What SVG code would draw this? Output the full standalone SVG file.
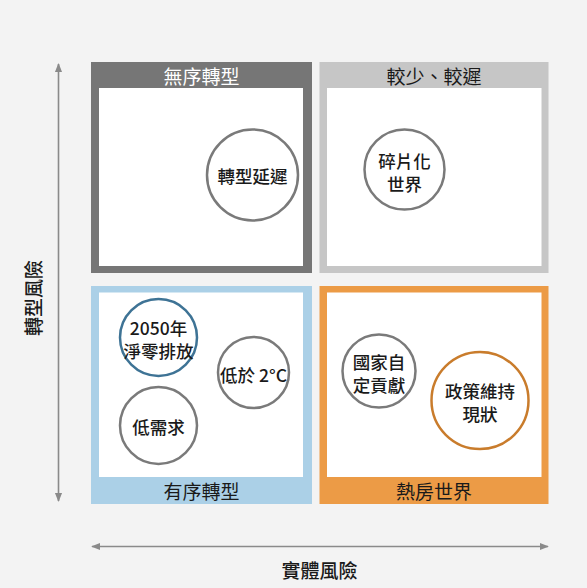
<svg xmlns="http://www.w3.org/2000/svg" width="587" height="588" viewBox="0 0 587 588">
<defs>
<style>
text{font-family:"Noto Sans CJK TC","Noto Sans CJK SC",sans-serif;text-anchor:middle;dominant-baseline:central}
.hd{font-size:19px}
.lb{font-size:17.5px;font-weight:500;fill:#1a1a1a}
.ax{font-size:19px;font-weight:500;fill:#1a1a1a}
.inner{fill:#fff}
.c{fill:#fff;stroke-width:2.5}
</style>
<marker id="ah" viewBox="0 0 10 10" refX="9" refY="5" markerWidth="9" markerHeight="9" markerUnits="userSpaceOnUse" orient="auto-start-reverse">
<path d="M0,1 L10,5 L0,9 Z" fill="#8a8a8a"/>
</marker>
</defs>
<rect x="0" y="0" width="587" height="588" fill="#f3f3f3"/>
<g id="connectors">
<line x1="58.5" y1="64" x2="58.5" y2="501" stroke="#8a8a8a" stroke-width="1.6" marker-start="url(#ah)" marker-end="url(#ah)"/>
<line x1="92" y1="546.5" x2="548" y2="546.5" stroke="#8a8a8a" stroke-width="1.6" marker-start="url(#ah)" marker-end="url(#ah)"/>
</g>
<g id="axis-y"><text class="ax" transform="translate(32,298) rotate(-90)">轉型風險</text></g>
<g id="axis-x"><text class="ax" x="319.5" y="569">實體風險</text></g>
<g id="q-disorderly">
<rect x="91" y="62" width="221" height="211" fill="#767676"/>
<rect class="inner" x="99" y="88" width="204" height="178"/>
<text class="hd" x="201.5" y="75" fill="#fff">無序轉型</text>
</g>
<g id="q-toolittle">
<rect x="319.5" y="62" width="229" height="211" fill="#c6c6c6"/>
<rect class="inner" x="327" y="88" width="214.5" height="178"/>
<text class="hd" x="434" y="75" fill="#1a1a1a">較少、較遲</text>
</g>
<g id="q-orderly">
<rect x="91" y="286" width="221" height="218" fill="#abd0e7"/>
<rect class="inner" x="99" y="292.5" width="204" height="184.5"/>
<text class="hd" x="201.5" y="490" fill="#1a1a1a">有序轉型</text>
</g>
<g id="q-hothouse">
<rect x="319.5" y="286" width="229" height="218" fill="#ec9b46"/>
<rect class="inner" x="327" y="292.5" width="214.5" height="184.5"/>
<text class="hd" x="434" y="490" fill="#1a1a1a">熱房世界</text>
</g>
<g id="n-delayed">
<circle class="c" cx="252.5" cy="175" r="45.5" stroke="#7a7a7a"/>
<text class="lb" x="252.5" y="175">轉型延遲</text>
</g>
<g id="n-fragmented">
<circle class="c" cx="404.5" cy="169.5" r="40" stroke="#7a7a7a"/>
<text class="lb" x="404.5" y="160.5">碎片化</text>
<text class="lb" x="404.5" y="183.5">世界</text>
</g>
<g id="n-netzero">
<circle class="c" cx="158.5" cy="337.5" r="38.5" stroke="#3e7395"/>
<text class="lb" x="158.5" y="327">2050年</text>
<text class="lb" x="158.5" y="350">淨零排放</text>
</g>
<g id="n-below2">
<circle class="c" cx="253.5" cy="372.5" r="35.5" stroke="#7a7a7a"/>
<text class="lb" x="253.5" y="374">低於 2°C</text>
</g>
<g id="n-lowdemand">
<circle class="c" cx="158.5" cy="425.5" r="38.5" stroke="#7a7a7a"/>
<text class="lb" x="158.5" y="426">低需求</text>
</g>
<g id="n-ndc">
<circle class="c" cx="379" cy="371" r="36.5" stroke="#7a7a7a"/>
<text class="lb" x="379" y="361">國家自</text>
<text class="lb" x="379" y="384">定貢獻</text>
</g>
<g id="n-current">
<circle class="c" cx="480" cy="400.5" r="48.5" stroke="#c97c2c"/>
<text class="lb" x="480" y="390">政策維持</text>
<text class="lb" x="480" y="413.5">現狀</text>
</g>
</svg>
